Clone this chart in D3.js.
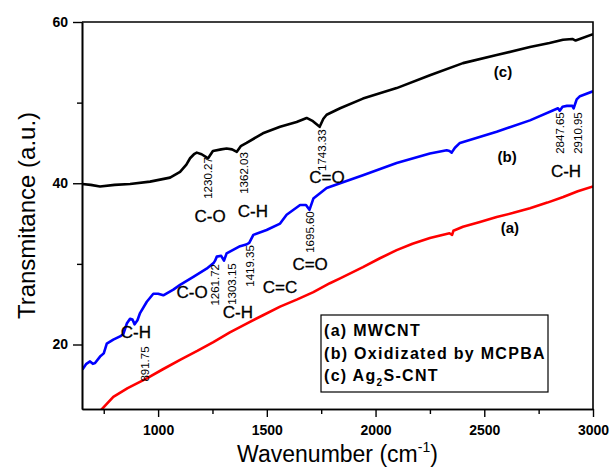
<!DOCTYPE html>
<html>
<head>
<meta charset="utf-8">
<script src="https://cdn.jsdelivr.net/npm/d3@7"></script>
<style>
  body { margin: 0; background: #fff; }
  text { font-family: "Liberation Sans", Arial, sans-serif; }
</style>
</head>
<body>
<div class="graph"></div>
<script>
// Spectra: wavenumber (cm-1) and transmittance (a.u.)
var waveA = [735, 794, 860, 948, 1020, 1101, 1180, 1254, 1330, 1407, 1480, 1561, 1640, 1714, 1790, 1837, 1942, 2020, 2097, 2170, 2250, 2340, 2352, 2358, 2402, 2480, 2557, 2630, 2710, 2790, 2863, 2930, 3000];
var transA = [11.8, 13.5, 14.6, 15.8, 16.9, 18.1, 19.2, 20.3, 21.5, 22.6, 23.6, 24.7, 25.6, 26.5, 27.6, 28.2, 29.6, 30.7, 31.7, 32.5, 33.2, 33.8, 33.6, 34.1, 34.6, 35.2, 35.8, 36.3, 36.9, 37.6, 38.3, 39.0, 39.6];

var waveB = [652, 670, 687, 700, 710, 733, 750, 764, 794, 825, 840, 856, 871, 882, 892, 905, 917, 948, 978, 1000, 1024, 1070, 1101, 1162, 1223, 1255, 1262, 1270, 1290, 1303, 1315, 1377, 1405, 1419, 1438, 1499, 1561, 1591, 1653, 1680, 1696, 1714, 1775, 1837, 1942, 2097, 2250, 2327, 2340, 2350, 2365, 2388, 2557, 2710, 2839, 2847, 2860, 2880, 2905, 2911, 2925, 2940, 3000];
var transB = [16.9, 17.6, 17.9, 17.6, 17.7, 18.5, 18.9, 20.1, 20.6, 21.0, 21.3, 22.6, 23.2, 23.1, 22.5, 23.0, 23.9, 25.3, 26.3, 26.3, 26.1, 26.8, 27.4, 28.4, 29.4, 30.1, 30.4, 30.9, 31.0, 30.4, 31.3, 32.2, 32.4, 32.6, 33.6, 34.2, 35.0, 36.1, 37.3, 37.3, 36.7, 38.1, 39.4, 40.0, 41.0, 42.5, 43.7, 44.1, 44.0, 43.8, 44.4, 45.0, 46.4, 47.8, 49.3, 49.0, 49.5, 49.6, 49.6, 49.3, 50.4, 50.8, 51.4];

var waveC = [650, 690, 733, 800, 871, 963, 1055, 1101, 1130, 1147, 1165, 1178, 1200, 1223, 1230, 1252, 1290, 1315, 1340, 1362, 1380, 1407, 1482, 1561, 1637, 1683, 1712, 1743, 1760, 1775, 1837, 1942, 2097, 2250, 2402, 2557, 2710, 2800, 2862, 2905, 2920, 3000];
var transC = [39.9, 39.8, 39.6, 39.8, 39.9, 40.2, 40.7, 41.4, 42.3, 43.1, 43.6, 43.8, 43.6, 43.2, 43.1, 44.0, 44.2, 44.3, 44.2, 43.9, 44.6, 45.0, 46.2, 47.0, 47.6, 48.1, 47.7, 47.0, 48.0, 48.5, 49.3, 50.5, 51.8, 53.4, 54.9, 55.9, 56.9, 57.4, 57.8, 57.9, 57.7, 58.5];

var seriesNames = ["(a) MWCNT", "(b) Oxidizated by MCPBA", "(c) Ag2S-CNT"];
var seriesTags = ["(a)", "(b)", "(c)"];
var seriesColors = ["#ff0000", "#0000ff", "#000000"];

var xTicks = [1000, 1500, 2000, 2500, 3000];
var xMinorTicks = [750, 1250, 1750, 2250, 2750];
var yTicks = [20, 40, 60];
var yMinorTicks = [30, 50];

// peak positions written on the spectra (label text, wavenumber, transmittance)
var peakText = ["1230.27", "1362.03", "1743.33", "1695.60", "1261.72", "1303.15", "1419.35", "891.75", "2847.65", "2910.95"];
var peakWave = [1229, 1395, 1754, 1699, 1262, 1340, 1423, 940, 2848, 2931];
var peakTrans = [40.65, 41.27, 44.1, 33.95, 27.4, 27.5, 29.74, 17.58, 46.23, 46.23];

// bond assignments
var bondText = ["C-O", "C-H", "C=O", "C=O", "C=C", "C-O", "C-H", "C-H", "C-H"];
var bondWave = [1239, 1436, 1777, 1699, 1561, 1156, 1367, 898, 2876];
var bondTrans = [35.2, 35.8, 40.03, 29.24, 26.4, 25.77, 23.3, 20.8, 40.8];

// curve tags (a), (b), (c)
var tagWave = [2618, 2605, 2586];
var tagTrans = [33.8, 42.6, 53.2];

var width = 611;
var height = 468;
var margin = {left: 82, right: 18, top: 22, bottom: 59};

var svg = d3.select(".graph").append("svg")
    .attr("width", width)
    .attr("height", height);

var x = d3.scaleLinear().domain([650, 3000]).range([margin.left, width - margin.right]);
var y = d3.scaleLinear().domain([12, 60]).range([height - margin.bottom, margin.top]);

svg.append("clipPath").attr("id", "plotclip")
  .append("rect")
    .attr("x", margin.left).attr("y", margin.top)
    .attr("width", x.range()[1] - margin.left)
    .attr("height", y.range()[0] - margin.top);

var line = d3.line()
    .x(function (d) { return x(d[0]); })
    .y(function (d) { return y(d[1]); });

var series = [d3.zip(waveA, transA), d3.zip(waveB, transB), d3.zip(waveC, transC)];

svg.append("g").attr("clip-path", "url(#plotclip)")
  .selectAll("path").data(series).enter().append("path")
    .attr("d", line)
    .attr("fill", "none")
    .attr("stroke", function (d, i) { return seriesColors[i]; })
    .attr("stroke-width", 2.6)
    .attr("stroke-linejoin", "round");

// Axes
function styleAxis(g) {
    g.select(".domain").attr("stroke-width", 1.6);
    g.selectAll(".tick line").attr("stroke-width", 1.4);
    g.selectAll(".tick text")
        .attr("font-family", "Liberation Sans, Arial, sans-serif")
        .attr("font-weight", "bold")
        .attr("font-size", 14)
        .attr("fill", "#000");
}

svg.append("g")
    .attr("transform", "translate(0," + y.range()[0] + ")")
    .call(d3.axisBottom(x).tickValues(xTicks).tickFormat(d3.format("d")).tickSize(8).tickPadding(8).tickSizeOuter(0))
    .call(styleAxis);
svg.append("g")
    .attr("transform", "translate(0," + y.range()[0] + ")")
    .call(d3.axisBottom(x).tickValues(xMinorTicks).tickSize(5).tickFormat("").tickSizeOuter(0))
    .call(styleAxis);
svg.append("g")
    .attr("transform", "translate(" + margin.left + ",0)")
    .call(d3.axisLeft(y).tickValues(yTicks).tickSize(9).tickPadding(5).tickSizeOuter(0))
    .call(styleAxis);
svg.append("g")
    .attr("transform", "translate(" + margin.left + ",0)")
    .call(d3.axisLeft(y).tickValues(yMinorTicks).tickSize(5).tickFormat("").tickSizeOuter(0))
    .call(styleAxis);

// top and right frame
svg.append("path")
    .attr("d", "M" + margin.left + "," + margin.top + "H" + x.range()[1] + "V" + y.range()[0])
    .attr("fill", "none")
    .attr("stroke", "#000")
    .attr("stroke-width", 1.6);

// Axis titles
var xt = svg.append("text")
    .attr("x", (x.range()[0] + x.range()[1]) / 2)
    .attr("y", height - 6)
    .attr("text-anchor", "middle")
    .attr("font-size", 23)
    .text("Wavenumber (cm");
xt.append("tspan").attr("font-size", 14).attr("dy", -10).text("-1");
xt.append("tspan").attr("dy", 10).text(")");

svg.append("text")
    .attr("transform", "translate(35," + (y.range()[0] + y.range()[1]) / 2 + ") rotate(-90)")
    .attr("text-anchor", "middle")
    .attr("font-size", 24)
    .text("Transmitance (a.u.)");

// Peak labels
svg.append("g").selectAll("text").data(peakText).enter().append("text")
    .attr("transform", function (d, i) { return "translate(" + x(peakWave[i]) + "," + y(peakTrans[i]) + ") rotate(-90)"; })
    .attr("text-anchor", "middle")
    .attr("dominant-baseline", "central")
    .attr("font-size", 11.5)
    .text(function (d) { return d; });

svg.append("g").selectAll("text").data(bondText).enter().append("text")
    .attr("x", function (d, i) { return x(bondWave[i]); })
    .attr("y", function (d, i) { return y(bondTrans[i]); })
    .attr("text-anchor", "middle")
    .attr("font-size", 17)
    .attr("stroke", "#000")
    .attr("stroke-width", 0.3)
    .text(function (d) { return d; });

svg.append("g").selectAll("text").data(seriesTags).enter().append("text")
    .attr("x", function (d, i) { return x(tagWave[i]); })
    .attr("y", function (d, i) { return y(tagTrans[i]); })
    .attr("text-anchor", "middle")
    .attr("font-size", 15)
    .attr("font-weight", "bold")
    .text(function (d) { return d; });

// Legend
var legend = svg.append("g").attr("transform", "translate(321,315)");
legend.append("rect")
    .attr("width", 227).attr("height", 77)
    .attr("fill", "#fff").attr("stroke", "#000").attr("stroke-width", 1.2);
seriesNames.forEach(function (name, i) {
    var t = legend.append("text")
        .attr("x", 3)
        .attr("y", 21 + i * 22.5)
        .attr("font-size", 16)
        .attr("font-weight", "bold")
        .attr("letter-spacing", 1.3);
    if (name.indexOf("Ag2S") >= 0) {
        t.append("tspan").text("(c) Ag");
        t.append("tspan").attr("font-size", 10).attr("dy", 5).text("2");
        t.append("tspan").attr("dy", -5).text("S-CNT");
    } else {
        t.text(name);
    }
});
</script>
</body>
</html>
